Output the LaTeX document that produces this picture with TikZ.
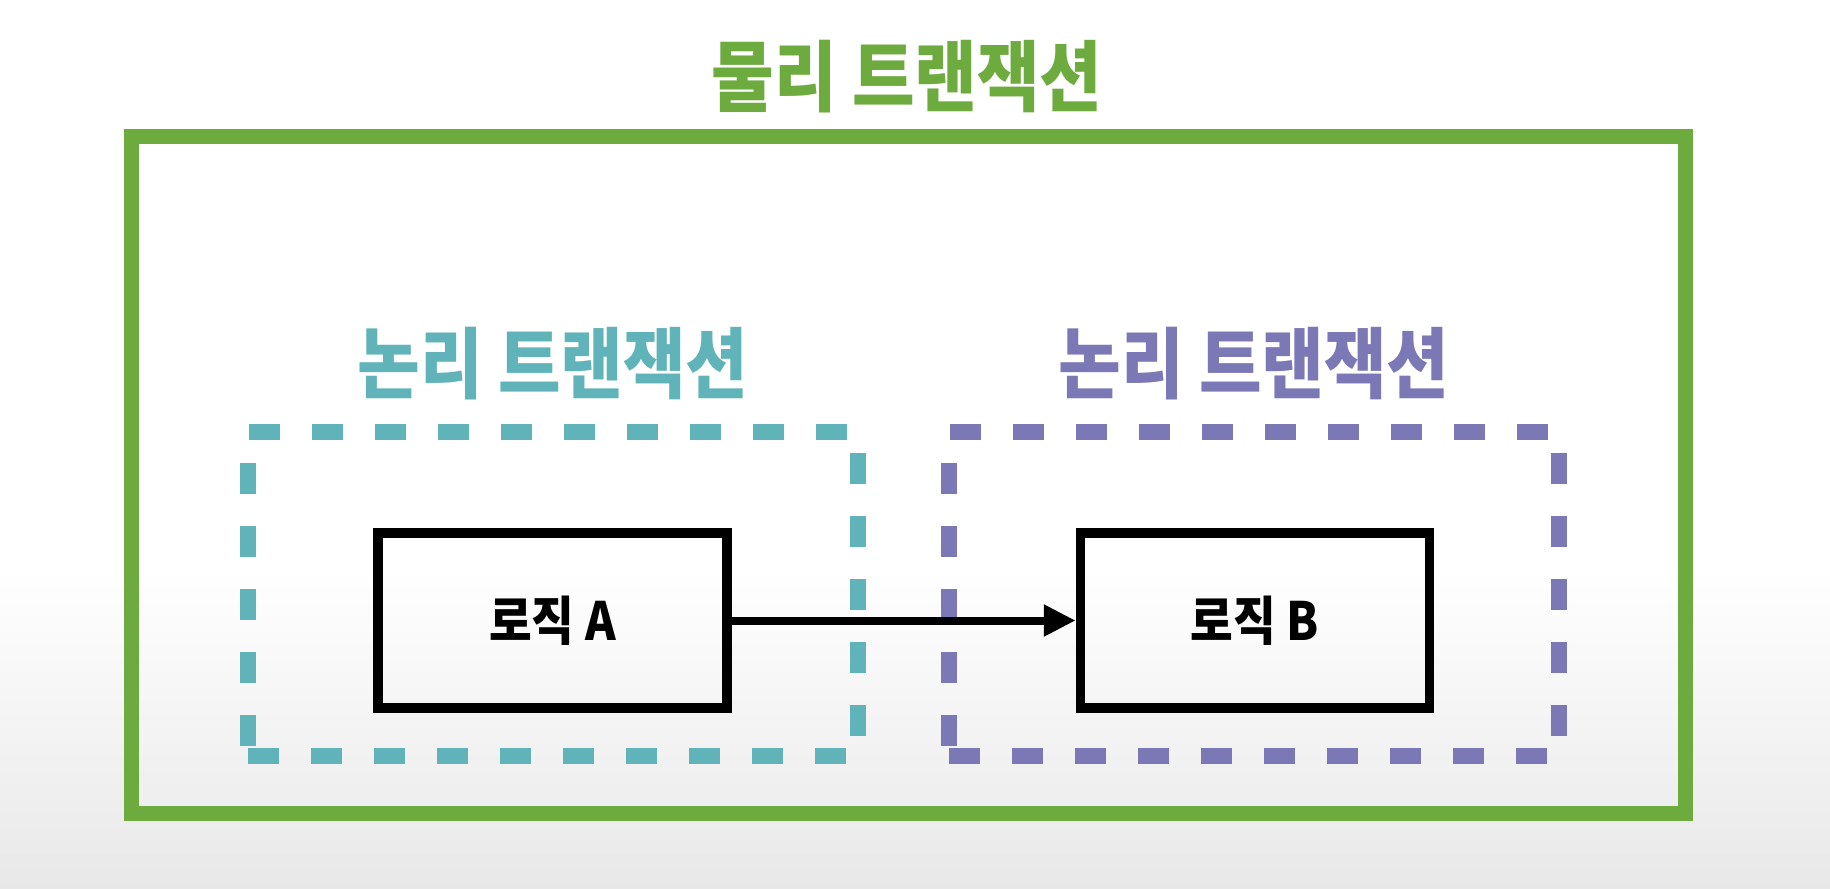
\documentclass[tikz,border=0pt]{standalone}
\usepackage{fontspec}
\newfontfamily\cjk[FakeStretch=0.88]{Noto Sans CJK KR}
\usetikzlibrary{arrows.meta}

\definecolor{physgreen}{HTML}{6EAB3F}
\definecolor{logicteal}{HTML}{60B3B8}
\definecolor{logicpurple}{HTML}{7C77B5}

\tikzset{
    title/.style={font=\cjk\bfseries\fontsize{22}{26}\selectfont, inner sep=0pt},
    txbox/.style={draw, dash pattern=on 0.31cm off 0.32cm, line width=0.16cm,
        minimum width=6.10cm, minimum height=3.24cm, inner sep=0pt},
    logic/.style={draw=black, line width=0.095cm, minimum width=3.49cm,
        minimum height=1.75cm, inner sep=0pt,
        font=\cjk\bfseries\fontsize{15}{18}\selectfont},
}

\begin{document}
\begin{tikzpicture}

    % Background with the light grey fade at the bottom
    \fill[white] (0,0) rectangle (18.3,8.88);
    \shade[top color=white, bottom color=gray!18] (0,0) rectangle (18.3,3.2);

    % Draw the physical transaction frame
    \draw[physgreen, line width=0.15cm] (1.31,0.75) rectangle (16.85,7.52);
    \node[title, physgreen] (phys) at (9.07,8.11) {물리 트랜잭션};

    % Logical transactions (dashed)
    \node[txbox, logicteal] (txA) at (5.53,2.94) {};
    \node[txbox, logicpurple] (txB) at (12.54,2.94) {};
    \node[title, logicteal] (labA) at (5.53,5.24) {논리 트랜잭션};
    \node[title, logicpurple] (labB) at (12.54,5.24) {논리 트랜잭션};

    % Logic blocks and the call between them
    \node[logic] (logA) at (5.525,2.675) {로직 A};
    \node[logic] (logB) at (12.55,2.675) {로직 B};
    \draw[line width=0.08cm, -{Triangle[length=0.32cm, width=0.30cm]}] (logA) -- (logB);

\end{tikzpicture}
\end{document}
